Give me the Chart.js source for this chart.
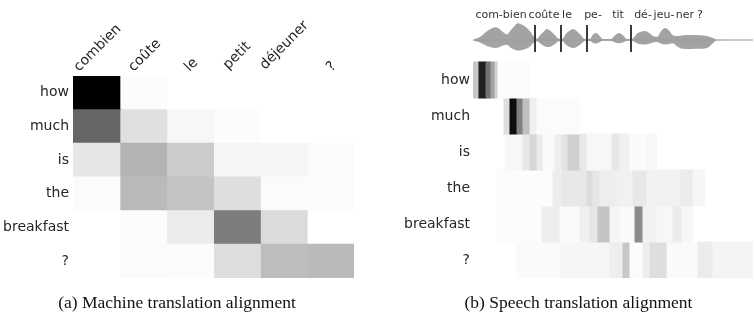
<!DOCTYPE html>
<html><head><meta charset="utf-8">
<script src="https://cdn.jsdelivr.net/npm/chart.js@4.4.1/dist/chart.umd.min.js"></script>
<style>
html,body{margin:0;padding:0;background:#fff;width:754px;height:327px;overflow:hidden}
#wrapA{position:absolute;left:0;top:0;width:377px;height:327px}
#wrapB{position:absolute;left:377px;top:0;width:377px;height:327px}
</style></head><body>
<div id="wrapA"><canvas id="mt" width="377" height="327"></canvas></div>
<div id="wrapB"><canvas id="st" width="377" height="327"></canvas></div>
<script>
// ---------- (a) machine translation alignment ----------
const mtSource = ['combien', 'coûte', 'le', 'petit', 'déjeuner', '?'];
const mtTarget = ['how', 'much', 'is', 'the', 'breakfast', '?'];
const mtHow       = [1.00, 0.012, 0.00, 0.00, 0.00, 0.00];
const mtMuch      = [0.60, 0.12, 0.03, 0.01, 0.00, 0.00];
const mtIs        = [0.10, 0.30, 0.20, 0.04, 0.04, 0.012];
const mtThe       = [0.015, 0.27, 0.23, 0.13, 0.015, 0.012];
const mtBreakfast = [0.00, 0.012, 0.08, 0.51, 0.14, 0.00];
const mtQuestion  = [0.00, 0.015, 0.01, 0.13, 0.26, 0.27];
const mtWeights = [mtHow, mtMuch, mtIs, mtThe, mtBreakfast, mtQuestion];

// ---------- (b) speech translation alignment ----------
const stTarget = ['how', 'much', 'is', 'the', 'breakfast', '?'];
// segments along audio frames (10 ms): [startFrame, endFrame, weight]
const stHow = [[0,6,0.22],[6,13,0.88],[13,18,0.55],[18,22,0.36],[22,25,0.18],[25,57,0.015]];
const stMuch = [[31,37,0.13],[37,44,0.95],[44,50,0.5],[50,57,0.25],[57,64,0.06],[64,107,0.015]];
const stIs = [[32,50,0.03],[50,57,0.09],[57,64,0.16],[64,70,0.08],[70,82,0.02],[82,89,0.07],[89,95,0.11],[95,107,0.19],[107,114,0.09],[114,139,0.03],[139,147,0.09],[147,157,0.06],[157,174,0.02],[174,184,0.03]];
const stThe = [[25,80,0.01],[80,89,0.07],[89,114,0.09],[114,120,0.14],[120,127,0.10],[127,144,0.07],[144,160,0.055],[160,174,0.09],[174,207,0.05],[207,220,0.075],[220,232,0.035]];
const stBreakfast = [[25,69,0.01],[69,87,0.065],[87,107,0.02],[107,117,0.06],[117,125,0.10],[125,137,0.23],[137,147,0.04],[147,162,0.02],[162,170,0.45],[170,184,0.05],[184,200,0.03],[200,209,0.075],[209,220,0.03]];
const stQuestion = [[44,87,0.02],[87,137,0.035],[137,150,0.065],[150,157,0.22],[157,170,0.015],[170,177,0.065],[177,194,0.13],[194,225,0.02],[225,240,0.075],[240,280,0.045]];
const stSegments = [stHow, stMuch, stIs, stThe, stBreakfast, stQuestion];
const totalFrames = 280;

// syllable labels and word boundaries on the waveform
const syllables = ['com-bien', 'coûte', 'le', 'pe-', 'tit', 'dé-', 'jeu-', 'ner', '?'];
const syllableFrames = [28, 71, 94, 120, 145, 170, 191, 212, 227];
const wordBoundaries = [62, 88, 114, 158];
const boundaryTop = 0.94, boundaryBottom = -0.75;

// waveform envelope (normalised amplitude)
const waveFrames = [0,2,6,10,14,18,22,26,30,34,37,41,45,49,53,57,61,64,67,71,74,78,82,86,90,93,97,100,104,108,112,117,120,123,126,130,138,142,146,150,154,160,164,168,172,176,180,184,188,192,196,200,204,210,218,226,234,240,244,280];
const waveUpper  = [0,0.06,0.15,0.35,0.55,0.70,0.80,0.72,0.50,0.35,0.55,0.85,1.05,0.95,0.80,0.55,0.20,0.08,0.30,0.55,0.69,0.55,0.30,0.08,0.10,0.40,0.60,0.69,0.55,0.30,0.06,0.08,0.35,0.44,0.30,0.06,0.06,0.30,0.44,0.30,0.06,0.10,0.40,0.52,0.56,0.45,0.25,0.20,0.55,0.75,0.60,0.30,0.25,0.30,0.31,0.30,0.25,0.12,0.02,0];
const waveLower  = [0,-0.06,-0.12,-0.25,-0.38,-0.45,-0.50,-0.45,-0.35,-0.30,-0.45,-0.60,-0.66,-0.62,-0.55,-0.40,-0.15,-0.08,-0.20,-0.38,-0.44,-0.40,-0.25,-0.08,-0.10,-0.30,-0.45,-0.50,-0.42,-0.25,-0.06,-0.06,-0.18,-0.22,-0.15,-0.05,-0.05,-0.15,-0.20,-0.15,-0.05,-0.08,-0.20,-0.27,-0.28,-0.24,-0.15,-0.12,-0.22,-0.28,-0.25,-0.20,-0.40,-0.55,-0.56,-0.55,-0.50,-0.20,-0.02,0];

// ---------- helpers ----------
const gray = v => { const g = Math.round(255 * (1 - v)); return `rgb(${g},${g},${g})`; };
Chart.defaults.font.family = '"DejaVu Sans", sans-serif';
Chart.defaults.animation = false;

const captionFont = { family: '"Liberation Serif", "Times New Roman", serif', size: 17.5, weight: 'normal' };

// rotated source-word labels, centred on each column like the original figure
const rotatedColumnLabels = {
  id: 'rotatedColumnLabels',
  afterDraw(chart) {
    const xs = chart.scales.x;
    const ctx = chart.ctx;
    const c = Math.SQRT1_2;
    const yb = chart.chartArea.top - 4;
    ctx.save();
    ctx.font = '14px "DejaVu Sans", sans-serif';
    ctx.fillStyle = '#262626';
    ctx.textAlign = 'left';
    ctx.textBaseline = 'alphabetic';
    mtSource.forEach((lab, j) => {
      const cx = xs.getPixelForValue(j + 0.5);
      const m = ctx.measureText(lab);
      const a = m.actualBoundingBoxAscent, d = Math.max(0, m.actualBoundingBoxDescent);
      const sx = cx - (m.width + d - a) * c / 2;
      const sy = yb - d * c;
      ctx.save();
      ctx.translate(sx, sy);
      ctx.rotate(-Math.PI / 4);
      ctx.fillText(lab, 0, 0);
      ctx.restore();
    });
    ctx.restore();
  }
};

new Chart(document.getElementById('mt'), {
  type: 'bar',
  data: {
    labels: mtTarget,
    datasets: mtSource.map((src, j) => ({
      label: src,
      indexAxis: 'y',
      data: mtTarget.map(() => [j, j + 1]),
      backgroundColor: mtWeights.map(row => gray(row[j])),
      borderWidth: 0,
      grouped: false,
      barPercentage: 1,
      categoryPercentage: 1,
      inflateAmount: 0.5
    }))
  },
  options: {
    indexAxis: 'y',
    responsive: false,
    animation: false,
    events: [],
    layout: { padding: { top: 76, left: 0, right: 23, bottom: 13.5 } },
    scales: {
      x: { type: 'linear', min: 0, max: mtSource.length, offset: false, display: false },
      y: {
        type: 'category',
        grid: { display: false, drawTicks: false },
        border: { display: false },
        ticks: { font: { size: 14 }, color: '#262626', padding: 4 },
        afterFit: s => { s.width = 73; }
      }
    },
    plugins: {
      legend: { display: false },
      tooltip: { enabled: false },
      title: {
        display: true, position: 'bottom', text: '(a) Machine translation alignment',
        font: captionFont, color: '#111', padding: { top: 14.5, bottom: 0 }
      }
    }
  },
  plugins: [rotatedColumnLabels]
});

const boundaryPoints = [];
wordBoundaries.forEach(b => {
  boundaryPoints.push({ x: b, y: boundaryTop }, { x: b, y: boundaryBottom }, { x: b, y: null });
});

new Chart(document.getElementById('st'), {
  type: 'bar',
  data: {
    datasets: [
      ...stSegments.map((segs, r) => ({
        type: 'bar',
        label: stTarget[r],
        indexAxis: 'y',
        xAxisID: 'x', yAxisID: 'y',
        data: segs.map(s => ({ x: [s[0], s[1]], y: r + 0.5 })),
        backgroundColor: segs.map(s => gray(s[2])),
        borderWidth: 0,
        grouped: false,
        barPercentage: 1,
        categoryPercentage: 1,
        inflateAmount: 0.5,
        order: 5
      })),
      {
        type: 'line', label: 'waveform', xAxisID: 'x', yAxisID: 'yw',
        data: waveFrames.map((f, i) => ({ x: f, y: waveUpper[i] })),
        borderWidth: 0, borderColor: 'rgba(0,0,0,0)',
        backgroundColor: 'rgba(128,128,128,0.72)',
        fill: '+1', pointRadius: 0, cubicInterpolationMode: 'monotone', order: 3
      },
      {
        type: 'line', label: 'waveform-low', xAxisID: 'x', yAxisID: 'yw',
        data: waveFrames.map((f, i) => ({ x: f, y: waveLower[i] })),
        borderWidth: 0, borderColor: 'rgba(0,0,0,0)',
        fill: false, pointRadius: 0, cubicInterpolationMode: 'monotone', order: 3
      },
      {
        type: 'line', label: 'baseline', xAxisID: 'x', yAxisID: 'yw',
        data: [{ x: 0, y: 0 }, { x: totalFrames, y: 0 }],
        borderColor: '#9a9a9a', borderWidth: 1, pointRadius: 0, fill: false, order: 2
      },
      {
        type: 'line', label: 'word boundaries', xAxisID: 'x', yAxisID: 'yw',
        data: boundaryPoints,
        borderColor: '#3a3a3a', borderWidth: 2, pointRadius: 0, spanGaps: false, fill: false, order: 1
      }
    ]
  },
  options: {
    responsive: false,
    animation: false,
    events: [],
    layout: { padding: { top: 0, left: 27, right: 1, bottom: 13.5 } },
    scales: {
      x: {
        type: 'linear', position: 'top', min: 0, max: totalFrames, offset: false,
        afterBuildTicks: s => { s.ticks = syllableFrames.map(v => ({ value: v })); },
        ticks: {
          callback: (v, i) => syllables[i], autoSkip: false, maxRotation: 0, minRotation: 0,
          font: { size: 11 }, color: '#333', padding: 1
        },
        grid: { display: false, drawTicks: false },
        border: { display: false },
        afterFit: s => { s.height = 23; }
      },
      y: {
        type: 'linear', reverse: true, min: -1.083, max: stTarget.length, offset: false,
        afterBuildTicks: s => { s.ticks = stTarget.map((_, i) => ({ value: i + 0.5 })); },
        ticks: {
          callback: v => stTarget[Math.round(v - 0.5)], autoSkip: false,
          font: { size: 14 }, color: '#262626', padding: 3
        },
        grid: { display: false, drawTicks: false },
        border: { display: false },
        afterFit: s => { s.width = 69; }
      },
      yw: { type: 'linear', position: 'right', display: false, offset: false, min: -14.875, max: 1.0625 }
    },
    plugins: {
      legend: { display: false },
      tooltip: { enabled: false },
      title: {
        display: true, position: 'bottom', text: '(b) Speech translation alignment',
        font: captionFont, color: '#111', padding: { top: 14.5, bottom: 0 }
      }
    }
  }
});
</script>
</body></html>
